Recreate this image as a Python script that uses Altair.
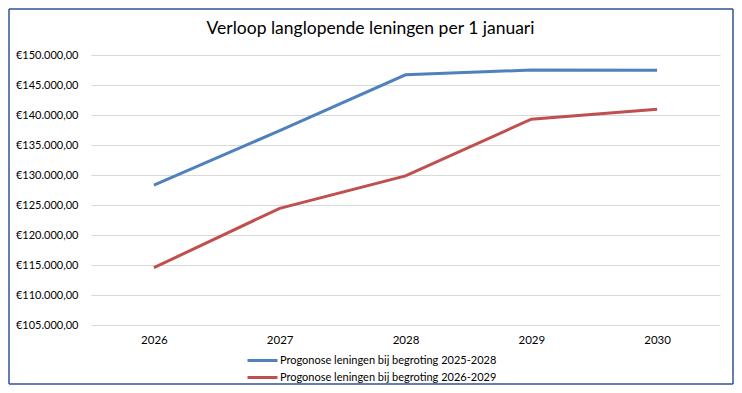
import altair as alt
import pandas as pd

years = ["2026", "2027", "2028", "2029", "2030"]
series_names = [
    "Progonose leningen bij begroting 2025-2028",
    "Progonose leningen bij begroting 2026-2029",
]
values_2025_2028 = [128300, 137400, 146700, 147500, 147450]
values_2026_2029 = [114550, 124450, 129850, 139300, 140950]
colors = ["#4F81BD", "#C0504D"]
y_ticks = [105000, 110000, 115000, 120000, 125000, 130000, 135000, 140000, 145000, 150000]

rows = []
for name, vals in zip(series_names, [values_2025_2028, values_2026_2029]):
    for yr, v in zip(years, vals):
        rows.append({"jaar": yr, "bedrag": v, "reeks": name})
df = pd.DataFrame(rows)

FONT = "Lato"
W, H = 629, 270
PL, PT, PR, PB = 83, 47, 14, 60
BORDER = "#2F5597"

euro_expr = ('"€" + replace(replace(replace(format(datum.value, ",.2f"), ",", "X"), ".", ","), "X", ".")')

lines = alt.Chart(df).mark_line(strokeWidth=3, clip=False).encode(
    x=alt.X("jaar:N", sort=years, title=None,
            scale=alt.Scale(paddingInner=0, paddingOuter=0.5),
            axis=alt.Axis(labelAngle=0, ticks=False, domain=False, grid=False,
                          gridOpacity=0, domainOpacity=0,
                          labelFont=FONT, labelFontSize=11.5, labelColor="#000000",
                          labelPadding=9)),
    y=alt.Y("bedrag:Q", title=None,
            scale=alt.Scale(domain=[105000, 150000], nice=False, zero=False),
            axis=alt.Axis(values=y_ticks, labelExpr=euro_expr, ticks=False, domain=False,
                          domainOpacity=0,
                          gridColor="#D9D9D9", gridWidth=1,
                          labelFont=FONT, labelFontSize=11, labelColor="#000000",
                          labelPadding=13)),
    color=alt.Color("reeks:N", sort=series_names,
                    scale=alt.Scale(domain=series_names, range=colors),
                    legend=alt.Legend(title=None, orient="none", legendX=170, legendY=296.5,
                                      direction="vertical", symbolType="M-3,0H1",
                                      symbolSize=225, symbolStrokeWidth=3,
                                      labelFont=FONT, labelFontSize=11, labelColor="#000000",
                                      labelLimit=400, labelOffset=1, rowPadding=2)),
)

one = pd.DataFrame({"b": [0]})
L, R, T, B = -PL + 1, W + PR - 1, -PT + 1, H + PB - 1
rule = alt.Chart(one).mark_rule(color=BORDER, strokeWidth=1.5, clip=False)
top_edge = rule.encode(x=alt.value(L), x2=alt.value(R), y=alt.value(T))
bottom_edge = rule.encode(x=alt.value(L), x2=alt.value(R), y=alt.value(B))
left_edge = rule.encode(x=alt.value(L), y=alt.value(T), y2=alt.value(B))
right_edge = rule.encode(x=alt.value(R), y=alt.value(T), y2=alt.value(B))

chart = alt.layer(lines, top_edge, bottom_edge, left_edge, right_edge).properties(
    width=W, height=H,
    padding={"left": PL, "top": PT, "right": PR, "bottom": PB},
    autosize=alt.AutoSizeParams(type="none"),
    view=alt.ViewBackground(stroke="transparent", strokeWidth=0),
    title=alt.TitleParams("Verloop langlopende leningen per 1 januari",
                          font=FONT, fontSize=17.5, fontWeight="normal", color="#000000",
                          anchor="middle", frame="group", dx=-35, offset=-29),
).configure(
    background="white",
    view=alt.ViewConfig(strokeWidth=0, stroke="transparent"),
    style={"cell": {"stroke": "transparent", "strokeWidth": 0}},
).configure_axisX(grid=False, domain=False).configure_axisY(domain=False)

chart.save("out.html", embed_options={"renderer": "svg", "actions": False})
